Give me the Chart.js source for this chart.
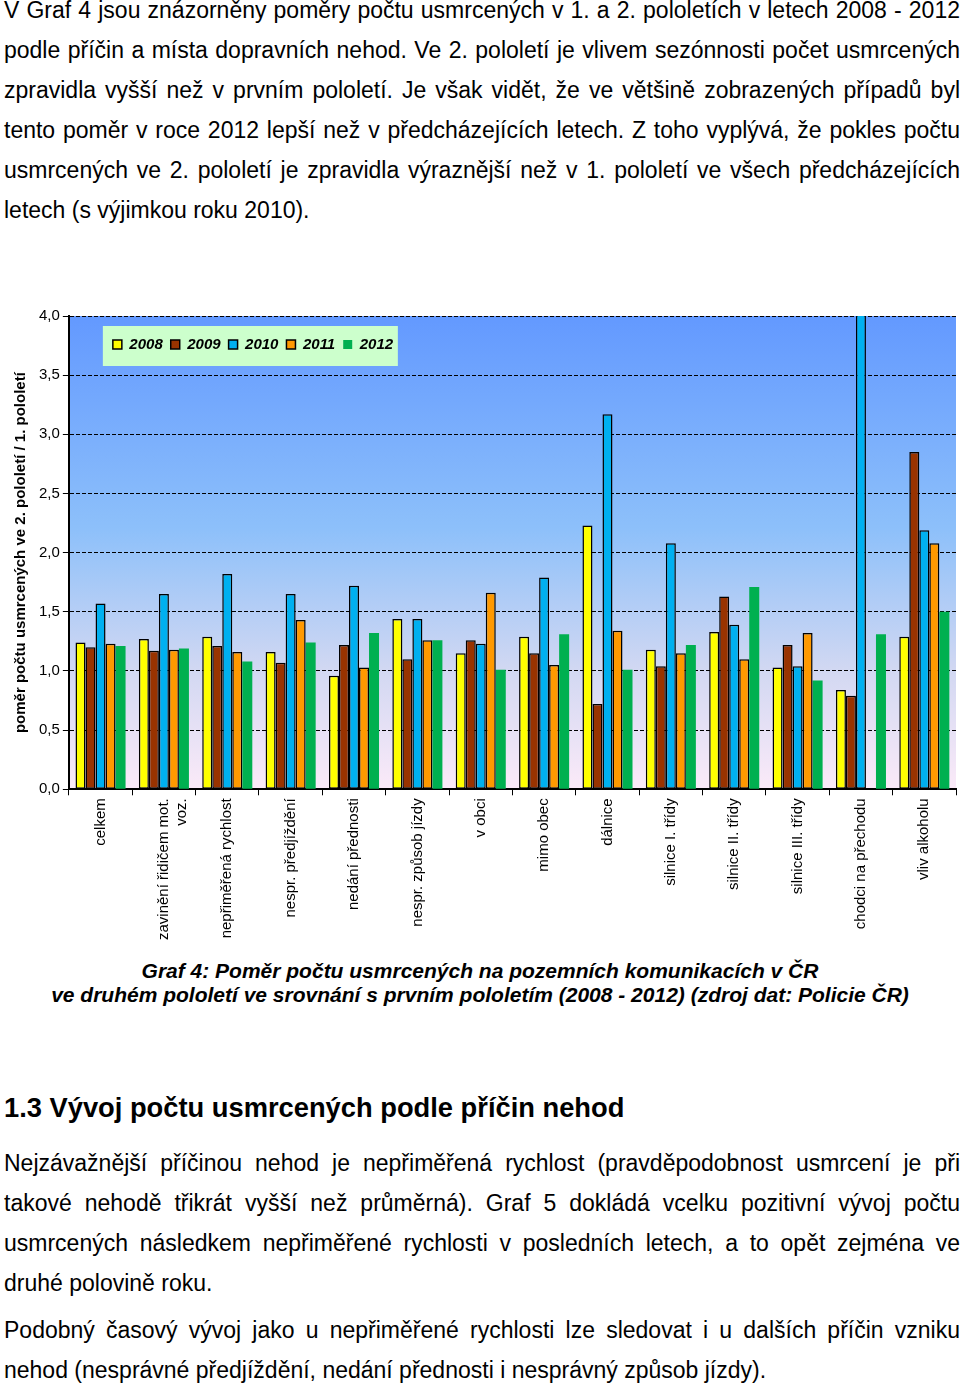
<!DOCTYPE html>
<html lang="cs">
<head>
<meta charset="utf-8">
<script src="https://cdn.jsdelivr.net/npm/chart.js@4.4.0/dist/chart.umd.min.js"></script>
<style>
  html, body { margin: 0; padding: 0; background: #fff; }
  body { width: 960px; height: 1385px; position: relative; overflow: hidden;
         font-family: Arial, "Liberation Sans", sans-serif; color: #000; }
  .para { position: absolute; left: 4px; width: 956px; font-size: 23px; line-height: 40px; }
  .para div { text-align: justify; text-align-last: justify; }
  .para div.last { text-align: left; text-align-last: left; }
  #chartBox { position: absolute; left: 0; top: 295px; width: 960px; height: 648px; }
  .caption { position: absolute; left: 0; top: 959px; width: 960px; text-align: center;
             font-family: Arial, "Liberation Sans", sans-serif;
             font-weight: bold; font-style: italic; font-size: 21px; line-height: 24px; }
  h2 { position: absolute; left: 4px; top: 1088px; margin: 0; font-size: 27.3px; line-height: 40px; font-weight: bold; }
</style>
</head>
<body>

<div class="para" style="top:-10px">
  <div>V Graf 4 jsou znázorněny poměry počtu usmrcených v 1. a 2. pololetích v letech 2008 - 2012</div>
  <div>podle příčin a místa dopravních nehod. Ve 2. pololetí je vlivem sezónnosti počet usmrcených</div>
  <div>zpravidla vyšší než v prvním pololetí. Je však vidět, že ve většině zobrazených případů byl</div>
  <div>tento poměr v roce 2012 lepší než v předcházejících letech. Z toho vyplývá, že pokles počtu</div>
  <div>usmrcených ve 2. pololetí je zpravidla výraznější než v 1. pololetí ve všech předcházejících</div>
  <div class="last">letech (s výjimkou roku 2010).</div>
</div>

<div id="chartBox"><canvas id="myChart"></canvas></div>

<div class="caption">Graf 4: Poměr počtu usmrcených na pozemních komunikacích v ČR<br>ve druhém pololetí ve srovnání s prvním pololetím (2008 - 2012) (zdroj dat: Policie ČR)</div>

<h2>1.3 Vývoj počtu usmrcených podle příčin nehod</h2>

<div class="para" style="top:1143px">
  <div>Nejzávažnější příčinou nehod je nepřiměřená rychlost (pravděpodobnost usmrcení je při</div>
  <div>takové nehodě třikrát vyšší než průměrná). Graf 5 dokládá vcelku pozitivní vývoj počtu</div>
  <div>usmrcených následkem nepřiměřené rychlosti v posledních letech, a to opět zejména ve</div>
  <div class="last">druhé polovině roku.</div>
</div>

<div class="para" style="top:1310px">
  <div>Podobný časový vývoj jako u nepřiměřené rychlosti lze sledovat i u dalších příčin vzniku</div>
  <div class="last">nehod (nesprávné předjíždění, nedání přednosti i nesprávný způsob jízdy).</div>
</div>

<script>
// kategorie (příčiny / místa nehod)
let categories = [
    'celkem',
    ['zavinění řidičem mot.', 'voz.'],
    'nepřiměřená rychlost',
    'nespr. předjíždění',
    'nedání přednosti',
    'nespr. způsob jízdy',
    'v obci',
    'mimo obec',
    'dálnice',
    'silnice I. třídy',
    'silnice II. třídy',
    'silnice III. třídy',
    'chodci na přechodu',
    'vliv alkoholu'
];

let years = ['2008', '2009', '2010', '2011', '2012'];

// poměr 2. pololetí / 1. pololetí
let r2008 = [1.24, 1.27, 1.29, 1.16, 0.96, 1.44, 1.15, 1.29, 2.23, 1.18, 1.33, 1.03, 0.84, 1.29];
let r2009 = [1.20, 1.17, 1.21, 1.07, 1.22, 1.10, 1.26, 1.15, 0.72, 1.04, 1.63, 1.22, 0.79, 2.85];
let r2010 = [1.57, 1.65, 1.82, 1.65, 1.72, 1.44, 1.23, 1.79, 3.17, 2.08, 1.39, 1.04, 4.40, 2.19];
let r2011 = [1.23, 1.18, 1.16, 1.43, 1.03, 1.26, 1.66, 1.05, 1.34, 1.15, 1.10, 1.32, null, 2.08];
let r2012 = [1.21, 1.19, 1.08, 1.24, 1.32, 1.26, 1.01, 1.31, 1.01, 1.22, 1.71, 0.92, 1.31, 1.50];

let yTicks = ['0,0', '0,5', '1,0', '1,5', '2,0', '2,5', '3,0', '3,5', '4,0'];

let colors = ['#FFFF00', '#993300', '#00B0F0', '#FF9900', '#00B050'];
let series = [r2008, r2009, r2010, r2011, r2012];

Chart.defaults.font.family = 'Arial, "Liberation Sans", sans-serif';
Chart.defaults.color = '#000';

// gradient pozadí grafu + podklad legendy, legenda v jedné řadě uvnitř grafu
const plotBackground = {
    id: 'plotBackground',
    afterLayout(chart) {
        const lg = chart.legend;
        const a = chart.chartArea;
        lg.isHorizontal = function() { return true; };
        lg.fit();
        lg.left = a.left + 36;
        lg.top = a.top + 13;
        lg.right = lg.left + lg.width;
        lg.bottom = lg.top + lg.height;
    },
    beforeDraw(chart) {
        const {ctx, chartArea: a} = chart;
        const g = ctx.createLinearGradient(0, a.top, 0, a.bottom);
        g.addColorStop(0, '#6399FF');
        g.addColorStop(0.45, '#8DC0FA');
        g.addColorStop(0.75, '#D2D8F2');
        g.addColorStop(1, '#FBEAF8');
        ctx.save();
        ctx.fillStyle = g;
        ctx.fillRect(a.left, a.top, a.right - a.left, a.bottom - a.top);
        ctx.fillStyle = '#CCFFCC';
        ctx.fillRect(a.left + 34, a.top + 10, 295, 40);
        ctx.restore();
    }
};

let ctx1 = document.getElementById('myChart').getContext('2d');

let chart1 = new Chart(ctx1, {
    type: 'bar',
    data: {
        labels: categories,
        datasets: years.map(function(y, i) {
            return {
                label: y,
                data: series[i],
                backgroundColor: colors[i],
                borderColor: '#000',
                borderWidth: i == 4 ? 0 : 1.5,
                borderSkipped: false,
                clip: 0
            };
        })
    },
    options: {
        responsive: true,
        maintainAspectRatio: false,
        animation: false,
        devicePixelRatio: 1,
        categoryPercentage: 0.79,
        barPercentage: 1.0,
        layout: {
            padding: { left: 12, right: 4, top: 21, bottom: 0 }
        },
        plugins: {
            legend: {
                position: 'chartArea',
                align: 'start',
                labels: {
                    boxWidth: 9,
                    boxHeight: 9,
                    padding: 8,
                    color: '#000',
                    font: { size: 15, weight: 'bold', style: 'italic' }
                }
            },
            tooltip: { enabled: false }
        },
        scales: {
            x: {
                grid: {
                    display: true,
                    drawOnChartArea: false,
                    color: '#000',
                    tickLength: 6,
                    offset: true
                },
                border: { color: '#000', width: 2 },
                ticks: {
                    color: '#000',
                    font: { size: 15 },
                    minRotation: 90,
                    maxRotation: 90,
                    autoSkip: false,
                    padding: 3
                }
            },
            y: {
                min: 0,
                max: 4,
                ticks: {
                    stepSize: 0.5,
                    color: '#000',
                    font: { size: 15 },
                    padding: 3,
                    callback: function(v, i) { return yTicks[i]; }
                },
                grid: { color: '#000', lineWidth: 1, tickLength: 6 },
                border: { color: '#000', width: 2, dash: [4, 2] },
                title: {
                    display: true,
                    text: 'poměr počtu usmrcených ve 2. pololetí / 1. pololetí',
                    color: '#000',
                    font: { size: 15, weight: 'bold' },
                    padding: { top: 0, bottom: 6 }
                }
            }
        }
    },
    plugins: [plotBackground]
});
</script>
</body>
</html>
